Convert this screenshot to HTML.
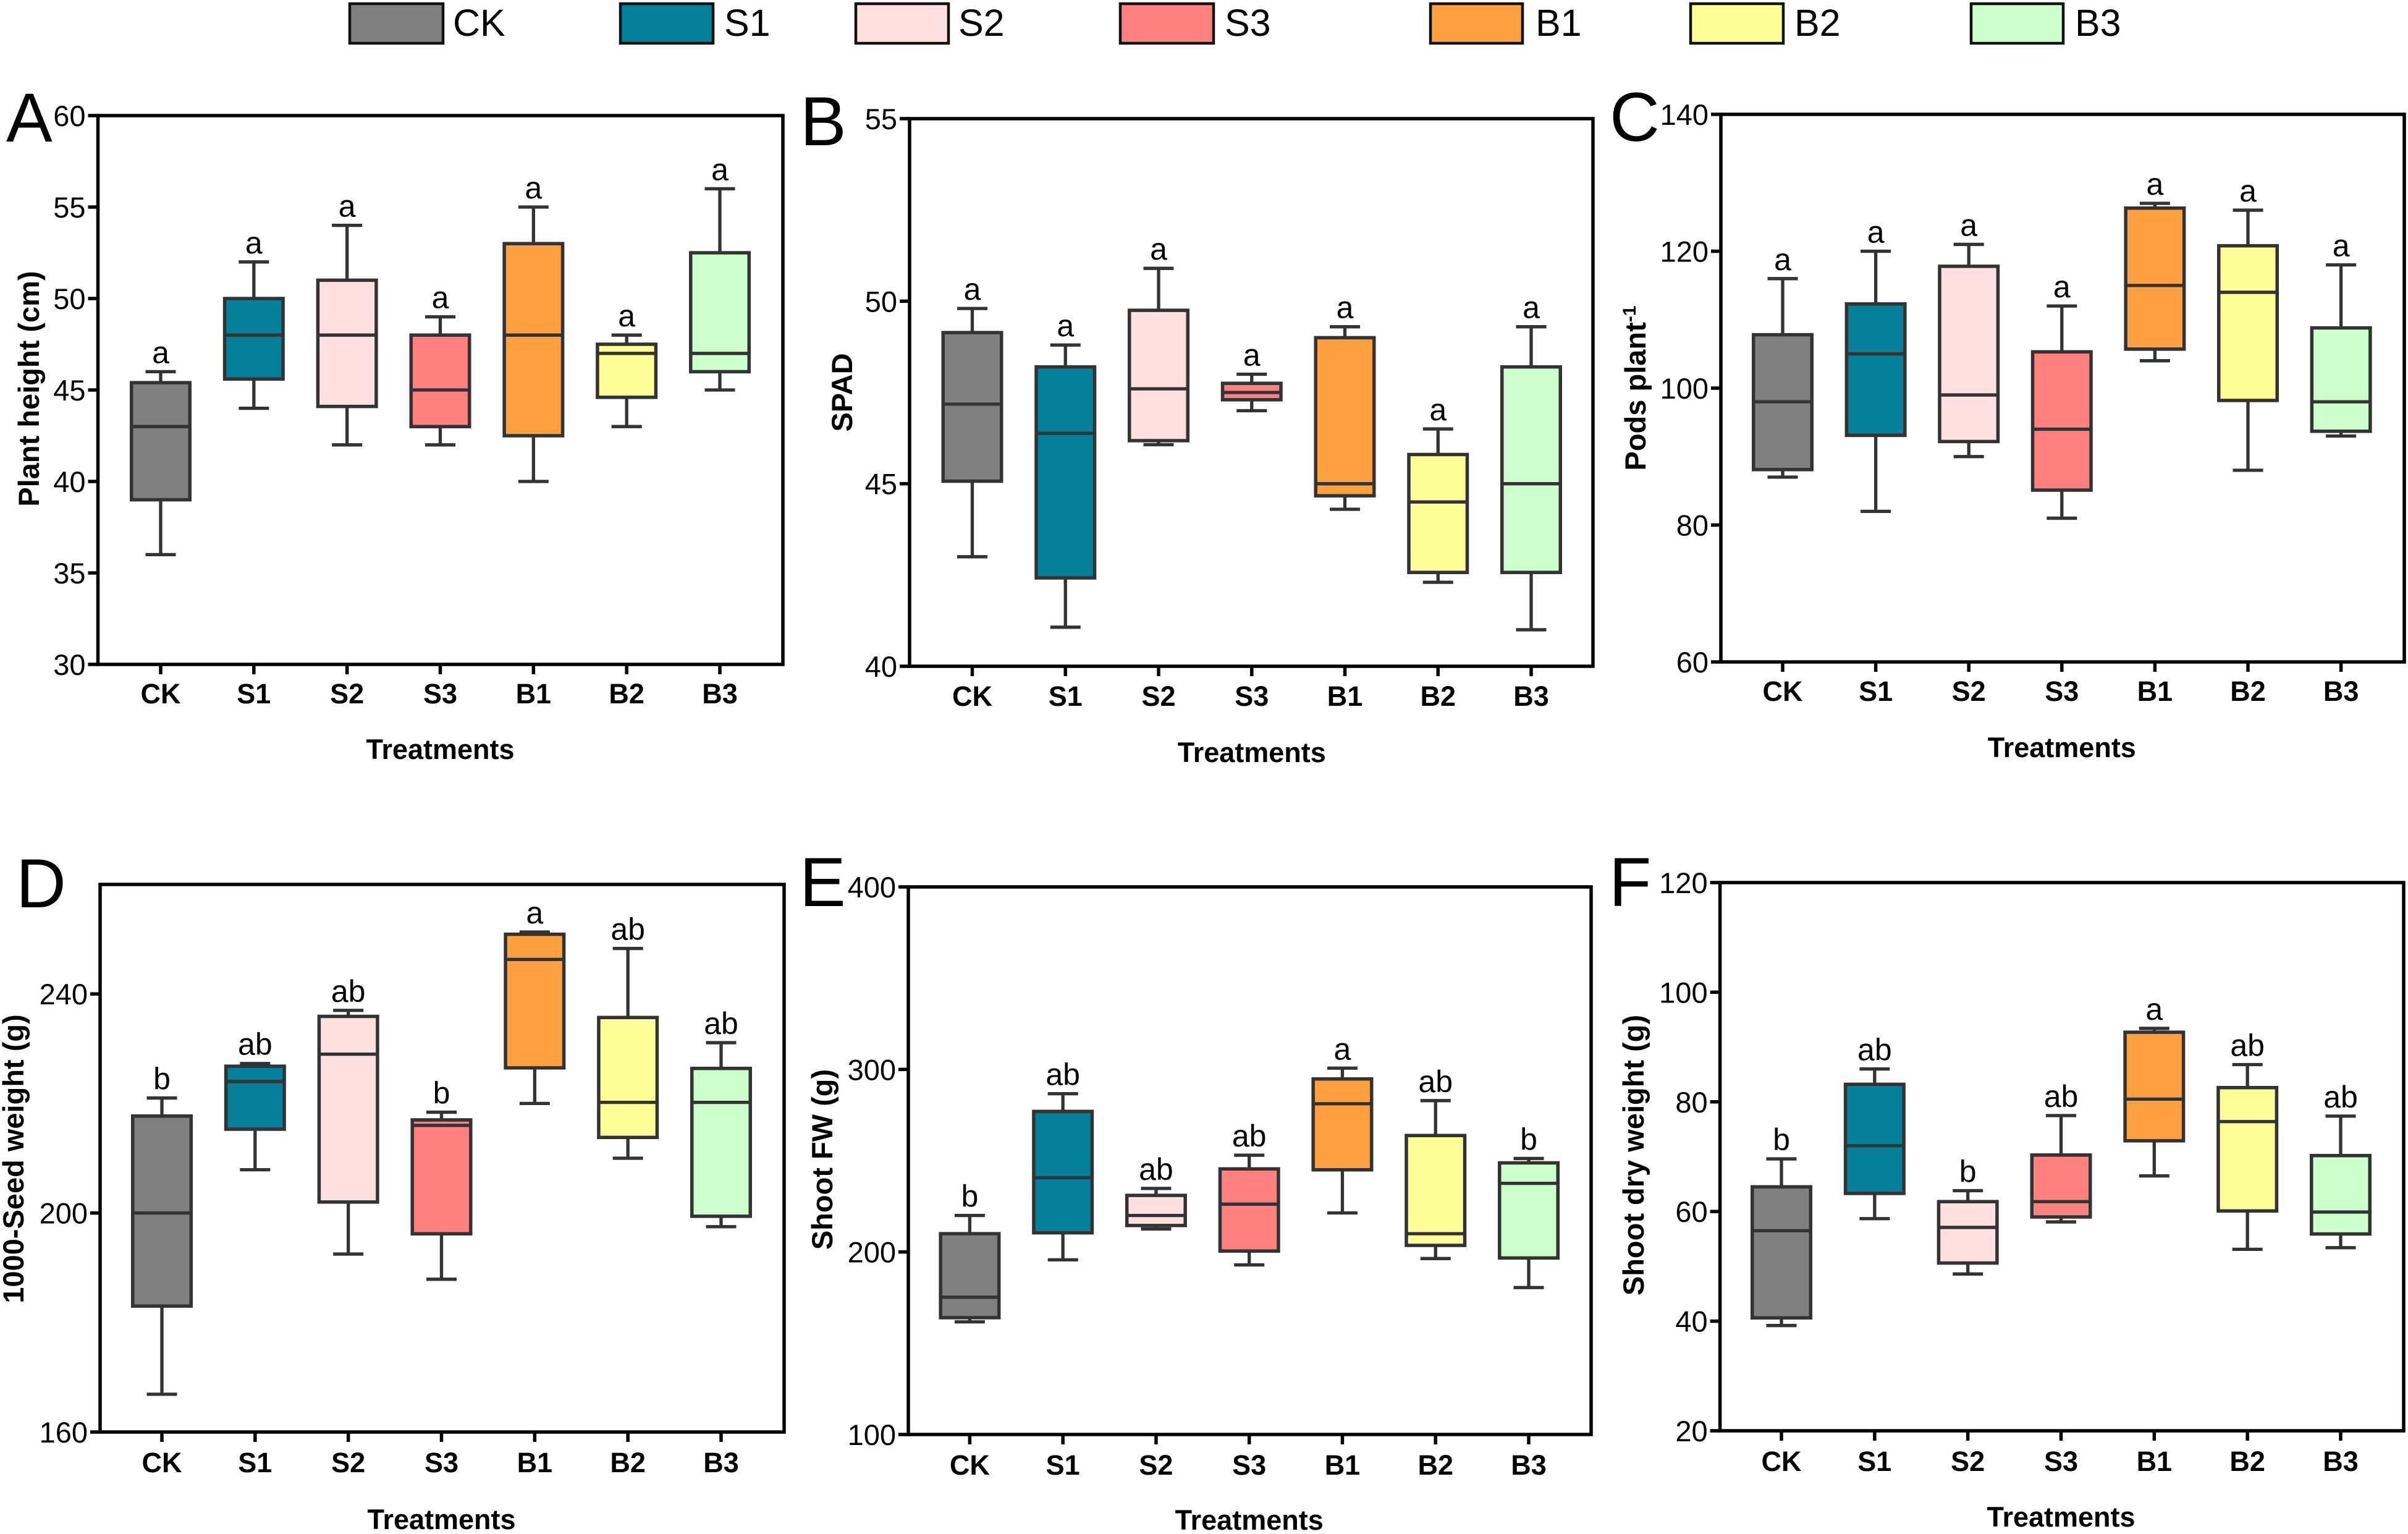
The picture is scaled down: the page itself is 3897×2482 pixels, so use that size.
<!DOCTYPE html>
<html lang="en">
<head>
<meta charset="utf-8">
<title>Treatment box plots</title>
<style>
html,body{margin:0;padding:0;background:#fff;}
svg{display:block;font-family:"Liberation Sans",Arial,sans-serif;}
</style>
</head>
<body>
<svg id="figure" xmlns="http://www.w3.org/2000/svg" width="3897" height="2482" viewBox="0 0 3897 2482"></svg>
<script>
const categories = ['CK','S1','S2','S3','B1','B2','B3'];
const fillColors = ['#808080','#067F9B','#FFE0E0','#FF8080','#FFA040','#FFFF99','#CCFFCC'];

const aLow = [36,44,42,42,40,43,45];
const aQ1 = [39,45.6,44.1,43,42.5,44.6,46];
const aMedian = [43,48,48,45,48,47,47];
const aQ3 = [45.4,50,51,48,53,47.5,52.5];
const aHigh = [46,52,54,49,55,48,56];
const aLetters = ['a','a','a','a','a','a','a'];
const aTicks = [30,35,40,45,50,55,60];
const aDomain = [30,60];

const bLow = [43,41.07,46.07,47,44.3,42.3,41];
const bQ1 = [45.07,42.42,46.18,47.3,44.67,42.57,42.57];
const bMedian = [47.18,46.38,47.6,47.5,45,44.5,45];
const bQ3 = [49.14,48.2,49.75,47.75,49,45.8,48.2];
const bHigh = [49.8,48.8,50.9,48,49.3,46.5,49.3];
const bLetters = ['a','a','a','a','a','a','a'];
const bTicks = [40,45,50,55];
const bDomain = [40,55];

const cLow = [87,82,90,81,104,88,93];
const cQ1 = [88.1,93.1,92.2,85.1,105.7,98.2,93.7];
const cMedian = [98,105,99,94,115,114,98];
const cQ3 = [107.8,112.3,117.8,105.3,126.3,120.8,108.8];
const cHigh = [116,120,121,112,127,126,118];
const cLetters = ['a','a','a','a','a','a','a'];
const cTicks = [60,80,100,120,140];
const cDomain = [60,140];

const dLow = [166.9,207.9,192.5,187.9,220,210,197.5];
const dQ1 = [183,215.3,202,196.2,226.5,213.8,199.4];
const dMedian = [200,224,229,216,246.3,220.2,220.2];
const dQ3 = [217.7,226.8,235.9,217,250.9,235.7,226.4];
const dHigh = [221,227.3,237,218.4,251.3,248.3,231.1];
const dLetters = ['b','ab','ab','b','a','ab','ab'];
const dTicks = [160,200,240];
const dDomain = [160,260];

const eLow = [161.7,195.7,212.6,192.9,221.4,196.4,180.5];
const eQ1 = [164,210.5,214.5,200.5,245,203.6,196.7];
const eMedian = [175.2,240.7,220,226.2,281.2,210,237.6];
const eQ3 = [210,277,231,245.5,294.8,263.8,248.8];
const eHigh = [220,286.7,234.8,253,300.7,282.9,251.2];
const eLetters = ['b','ab','ab','ab','a','ab','b'];
const eTicks = [100,200,300,400];
const eDomain = [100,400];

const fLow = [39.2,58.7,48.6,58.1,66.5,53.1,53.4];
const fQ1 = [40.6,63.3,50.6,59,72.9,60.1,55.9];
const fMedian = [56.5,72,57.1,61.8,80.5,76.4,59.9];
const fQ3 = [64.5,83.2,61.8,70.3,92.7,82.6,70.2];
const fHigh = [69.6,86,63.8,77.5,93.4,86.8,77.4];
const fLetters = ['b','ab','b','ab','a','ab','ab'];
const fTicks = [20,40,60,80,100,120];
const fDomain = [20,120];

const SVG_NS = 'http://www.w3.org/2000/svg';
const figure = document.getElementById('figure');
const INK = '#333333';

function make(parent, tag, attrs, text) {
  const node = document.createElementNS(SVG_NS, tag);
  for (const key in attrs) node.setAttribute(key, attrs[key]);
  if (text !== undefined) node.textContent = text;
  parent.appendChild(node);
  return node;
}

const legendLayout = [
  {x0:566,x1:717,tx:733},{x0:1004,x1:1154,tx:1172},{x0:1385,x1:1535,tx:1551},
  {x0:1813,x1:1964,tx:1982},{x0:2315,x1:2464,tx:2485},{x0:2736,x1:2886,tx:2904},{x0:3190,x1:3339,tx:3358}
];
const legendGroup = make(figure, 'g', {});


categories.forEach(function (cat, i) {
  const slot = legendLayout[i];
  const swatch = make(legendGroup, 'rect', {x:slot.x0,y:6,width:slot.x1-slot.x0,height:64,fill:fillColors[i],stroke:'#111',
    'stroke-width':4.5});
  
  
  const label = make(legendGroup, 'text', {x:slot.tx,y:58,'font-size':61,fill:'#000'}, cat);
  
  
});

const panels = [
  {id:'a',letter:'A',title:'Plant height (cm)',low:aLow,q1:aQ1,median:aMedian,q3:aQ3,high:aHigh,letters:aLetters,ticks:aTicks,domain:aDomain,
   left:158.5,right:1267,top:187,bottom:1075,xFirst:260,xLast:1165,tickBase:1138,xTitleBase:1228,yTitleX:63,yTitleY:629,tagX:10,tagY:229},
  {id:'b',letter:'B',title:'SPAD',low:bLow,q1:bQ1,median:bMedian,q3:bQ3,high:bHigh,letters:bLetters,ticks:bTicks,domain:bDomain,
   left:1472,right:2578,top:192,bottom:1078,xFirst:1573.5,xLast:2478,tickBase:1142,xTitleBase:1233,yTitleX:1379,yTitleY:635,tagX:1295,tagY:235},
  {id:'c',letter:'C',title:'Pods plant',sup:'-1',low:cLow,q1:cQ1,median:cMedian,q3:cQ3,high:cHigh,letters:cLetters,ticks:cTicks,domain:cDomain,
   left:2785,right:3891,top:185,bottom:1071,xFirst:2885,xLast:3788.6,tickBase:1134,xTitleBase:1225,yTitleX:2663,yTitleY:628,tagX:2605,tagY:228},
  {id:'d',letter:'D',title:'1000-Seed weight (g)',low:dLow,q1:dQ1,median:dMedian,q3:dQ3,high:dHigh,letters:dLetters,ticks:dTicks,domain:dDomain,
   left:162,right:1269,top:1431,bottom:2317,xFirst:262,xLast:1167,tickBase:2382,xTitleBase:2474,yTitleX:38,yTitleY:1875,tagX:26,tagY:1468},
  {id:'e',letter:'E',title:'Shoot FW (g)',low:eLow,q1:eQ1,median:eMedian,q3:eQ3,high:eHigh,letters:eLetters,ticks:eTicks,domain:eDomain,
   left:1470,right:2575,top:1435,bottom:2321,xFirst:1569.4,xLast:2474,tickBase:2386,xTitleBase:2475,yTitleX:1347,yTitleY:1876,tagX:1294,tagY:1466},
  {id:'f',letter:'F',title:'Shoot dry weight (g)',low:fLow,q1:fQ1,median:fMedian,q3:fQ3,high:fHigh,letters:fLetters,ticks:fTicks,domain:fDomain,
   left:2783.6,right:3890,top:1428,bottom:2315,xFirst:2883,xLast:3788,tickBase:2380,xTitleBase:2470,yTitleX:2660,yTitleY:1869,tagX:2604,tagY:1466}
];

panels.forEach(function (p) {
  const yScale = function (v) {
    return p.bottom - (v - p.domain[0]) / (p.domain[1] - p.domain[0]) * (p.bottom - p.top);
  };
  const xScale = function (i) {
    return p.xFirst + i * (p.xLast - p.xFirst) / (categories.length - 1);
  };

  const group = make(figure, 'g', {});
  
  

  const tag = make(group, 'text', {x:p.tagX,y:p.tagY,'font-size':112,fill:'#000'}, p.letter);
  
  

  const frame = make(group, 'rect', {x:p.left,y:p.top,width:p.right-p.left,height:p.bottom-p.top,fill:'none',stroke:'#000','stroke-width':5.5});
  
  

  p.ticks.forEach(function (t) {
    const yPos = yScale(t);
    const mark = make(group, 'line', {x1:p.left-16,x2:p.left,y1:yPos,y2:yPos,stroke:'#000','stroke-width':5.5});
    
    
    const tickText = make(group, 'text', {x:p.left-20,y:yPos+17,'font-size':47,'text-anchor':'end',fill:'#000'}, String(t));
    
    
  });

  const yTitle = make(group, 'text', {x:p.yTitleX,y:p.yTitleY,'font-size':47,'font-weight':'bold','text-anchor':'middle',fill:'#000',
    transform:'rotate(-90 ' + p.yTitleX + ' ' + p.yTitleY + ')'}, p.title);
  
  
  if (p.sup) {
    make(yTitle, 'tspan', {'font-size':30,dy:-16}, p.sup);
  }

  const xTitle = make(group, 'text', {x:(p.xFirst+p.xLast)/2,y:p.xTitleBase,'font-size':45,'font-weight':'bold','text-anchor':'middle',fill:'#000'}, 'Treatments');
  
  

  categories.forEach(function (cat, i) {
    const cx = xScale(i);
    const key = p.id + '-' + cat.toLowerCase();

    const xMark = make(group, 'line', {x1:cx,x2:cx,y1:p.bottom,y2:p.bottom+16,stroke:'#000','stroke-width':5.5});
    
    

    const xLabel = make(group, 'text', {x:cx,y:p.tickBase,'font-size':45,'font-weight':'bold','text-anchor':'middle',fill:'#000'}, cat);
    
    

    const boxWidth = 94.5;
    const capWidth = 49;
    const yLow = yScale(p.low[i]);
    const yQ1 = yScale(p.q1[i]);
    const yMed = yScale(p.median[i]);
    const yQ3 = yScale(p.q3[i]);
    const yHigh = yScale(p.high[i]);

    const stem = make(group, 'line', {x1:cx,x2:cx,y1:yHigh,y2:yLow,stroke:INK,'stroke-width':5.3});
    
    

    const capTop = make(group, 'line', {x1:cx-capWidth/2,x2:cx+capWidth/2,y1:yHigh,y2:yHigh,stroke:INK,'stroke-width':5.3});
    
    

    const capLow = make(group, 'line', {x1:cx-capWidth/2,x2:cx+capWidth/2,y1:yLow,y2:yLow,stroke:INK,'stroke-width':5.3});
    
    

    const box = make(group, 'rect', {x:cx-boxWidth/2,y:yQ3,width:boxWidth,height:yQ1-yQ3,fill:fillColors[i],stroke:INK,'stroke-width':5.5});
    
    

    const medianLine = make(group, 'line', {x1:cx-boxWidth/2,x2:cx+boxWidth/2,y1:yMed,y2:yMed,stroke:INK,'stroke-width':5.3});
    
    

    const sig = make(group, 'text', {x:cx,y:yHigh-14,'font-size':50,'text-anchor':'middle',fill:'#000'}, p.letters[i]);
    
    
  });
});
</script>
</body>
</html>
